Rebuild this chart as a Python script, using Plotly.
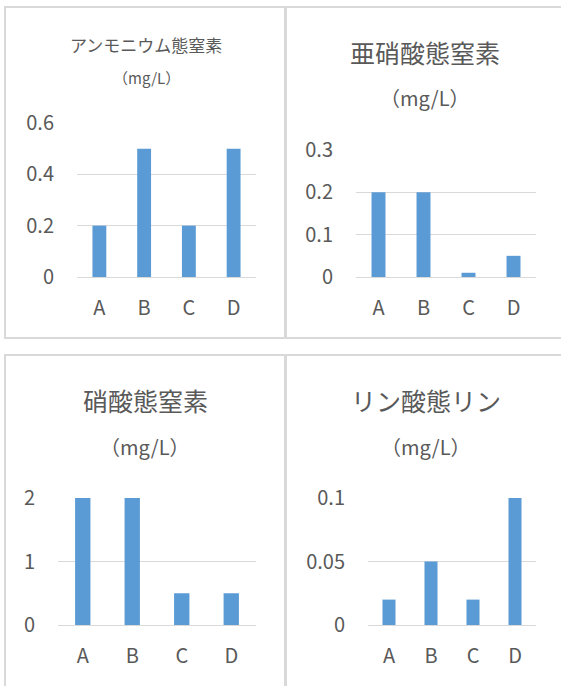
import plotly.graph_objects as go

# Water-quality measurements per sampling site
sites = ["A", "B", "C", "D"]
ammonium_n = [0.2, 0.5, 0.2, 0.5]
nitrite_n = [0.2, 0.2, 0.01, 0.05]
nitrate_n = [2, 2, 0.5, 0.5]
phosphate_p = [0.02, 0.05, 0.02, 0.1]

titles = ["アンモニウム態窒素", "亜硝酸態窒素", "硝酸態窒素", "リン酸態リン"]
unit_label = "（mg/L）"
y_ticks = [[0, 0.2, 0.4, 0.6], [0, 0.1, 0.2, 0.3], [0, 1, 2], [0, 0.05, 0.1]]
y_tick_text = [["0", "0.2", "0.4", "0.6"], ["0", "0.1", "0.2", "0.3"],
               ["0", "1", "2"], ["0", "0.05", "0.1"]]

W, H = 561, 686
FONT = "Noto Sans CJK JP"
TEXT = "#595959"
GRID = "#d9d9d9"
BAR = "#5b9bd5"
TICK_SIZE = 20


def px(x):
    return x / W


def py(y):
    return 1 - y / H


# plot-area boxes in pixels: (left, right, baseline, top gridline)
areas = [(77, 256, 277, 123), (356, 536, 277, 150),
         (58, 256, 625, 498), (368, 536, 625, 498)]
# title / unit label positions: (x center, title y, unit y, title size, unit size)
heads = [(146, 45, 77, 17, 15), (425, 52, 97, 25, 20),
         (145, 400, 446, 25, 20), (426, 400, 446, 25, 20)]
# chart frames
frames = [(5, 285, 7, 338), (286, 575, 7, 338),
          (5, 285, 355, 700), (286, 575, 355, 700)]

series = [ammonium_n, nitrite_n, nitrate_n, phosphate_p]

fig = go.Figure()
layout = dict(
    template="none",
    width=W, height=H, margin=dict(l=0, r=0, t=0, b=0, pad=0, autoexpand=False),
    paper_bgcolor="white", plot_bgcolor="white",
    showlegend=False, bargap=0.69,
    font=dict(family=FONT, color=TEXT, size=18),
)

annotations = []
shapes = []
for i, vals in enumerate(series):
    n = i + 1
    xa = "x" if n == 1 else f"x{n}"
    ya = "y" if n == 1 else f"y{n}"
    fig.add_trace(go.Bar(x=sites, y=vals, marker=dict(color=BAR, line=dict(width=0)),
                         xaxis=xa, yaxis=ya))
    l, r, b, t = areas[i]
    ymax = y_ticks[i][-1]
    layout["xaxis" if n == 1 else f"xaxis{n}"] = dict(
        domain=[px(l), px(r)], anchor=ya, showgrid=False, showline=False,
        zeroline=False, ticks="", ticklabelstandoff=17, automargin=False,
        tickfont=dict(size=TICK_SIZE, color=TEXT, family=FONT), fixedrange=True,
    )
    layout["yaxis" if n == 1 else f"yaxis{n}"] = dict(
        domain=[py(b), py(t)], anchor=xa, range=[0, ymax],
        tickvals=y_ticks[i], ticktext=y_tick_text[i],
        showgrid=True, gridcolor=GRID, gridwidth=1,
        zeroline=True, zerolinecolor=GRID, zerolinewidth=1,
        showline=False, ticks="", ticklabelstandoff=22, automargin=False,
        tickfont=dict(size=TICK_SIZE, color=TEXT, family=FONT), fixedrange=True,
    )
    cx, ty, uy, ts, us = heads[i]
    annotations.append(dict(text=titles[i], x=px(cx), y=py(ty), xref="paper", yref="paper",
                            xanchor="center", yanchor="middle", showarrow=False,
                            font=dict(size=ts, color=TEXT, family=FONT)))
    annotations.append(dict(text=unit_label, x=px(cx), y=py(uy), xref="paper", yref="paper",
                            xanchor="center", yanchor="middle", showarrow=False,
                            font=dict(size=us, color=TEXT, family=FONT)))
    x0, x1, y0, y1 = frames[i]
    shapes.append(dict(type="rect", xref="paper", yref="paper",
                       x0=px(x0), x1=px(x1), y0=py(y1), y1=py(y0),
                       line=dict(color=GRID, width=2), layer="below"))

layout["annotations"] = annotations
layout["shapes"] = shapes
fig.update_layout(**layout)
fig.write_html("out.html")
